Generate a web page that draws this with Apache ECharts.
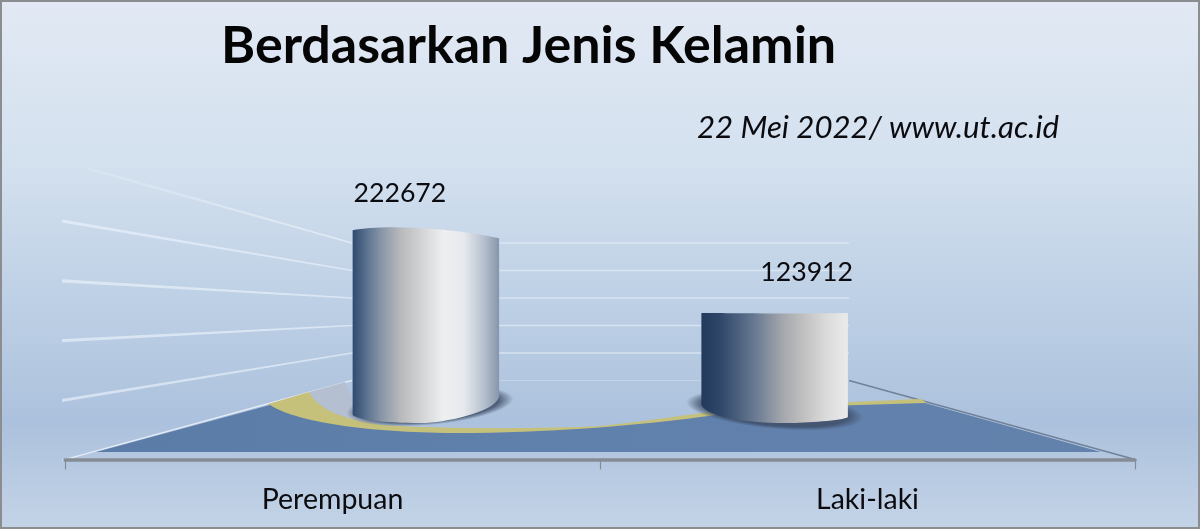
<!DOCTYPE html>
<html><head><meta charset="utf-8">
<style>html,body{margin:0;padding:0;background:#fff}#c{width:1200px;height:529px}</style>
<script src="https://cdn.jsdelivr.net/npm/echarts@6/dist/echarts.min.js"></script>
</head><body><div id="c"></div>
<script>
const categories = ['Perempuan', 'Laki-laki'];
const values = [222672, 123912];
const gridTicks = [0, 50000, 100000, 150000, 200000, 250000];
const titleText = 'Berdasarkan Jenis Kelamin';
const noteText = '22 Mei 2022/ www.ut.ac.id';

const FONT = 'Lato, "Open Sans", sans-serif';
const chart = echarts.init(document.getElementById('c'), null, {renderer: 'canvas'});

// perspective planes: 0 = front of the floor, 1 = through the cylinders, 2 = back wall
const grids = [
  {left: 65, right: 65, top: 162, height: 297.5},
  {left: 251.5, right: 251, top: 213.5, height: 193.5},
  {left: 352, right: 351, top: 243, height: 137.5}
];
const hiddenY = i => ({type: 'value', gridIndex: i, min: 0, max: 250000, interval: 50000, show: false});
const hiddenX = i => ({type: 'category', gridIndex: i, data: categories, show: false});

const cylStops = [
  [[0,'#2f4a70'],[.1,'#5d7491'],[.2,'#8a97a8'],[.33,'#b9babc'],[.48,'#d4d5d6'],[.62,'#eeeff0'],[.76,'#e6e9ed'],[.9,'#b4bfcd'],[1,'#8695ab']],
  [[0,'#233a5c'],[.12,'#2d4568'],[.35,'#64768f'],[.55,'#a3a6ac'],[.68,'#bdbdbd'],[.86,'#dcdcdc'],[1,'#ebebeb']]
];
const cylEdge = [
  {tl:-4.5, tr:3.5, tp:-9.5, bl:8, br:-10, bp:16, mid:.47, sx:4, sy:-1, srx:84, sry:19, rot:.09},
  {tl:2, tr:2, tp:2, bl:-2, br:10, bp:16, mid:.59, sx:0, sy:3, srx:89, sry:19, rot:-.09}
];
const labelOffset = [[-26, -41], [32, -39]];

function drawCylinder(params, api) {
  const i = api.value(0), v = api.value(1);
  const top = api.coord([i, v]), base = api.coord([i, 0]);
  const band = api.size([1, 0])[0], w = band * 0.42;
  const xl = top[0] - w / 2, xr = top[0] + w / 2, e = cylEdge[i];
  const yt = top[1], yb = base[1], xm = xl + e.mid * w;
  const d = [
    'M', xl, yt + e.tl,
    'C', xl + .18 * w, yt + e.tp, xl + .6 * w, yt + e.tp + 1, xr, yt + e.tr,
    'L', xr, yb + e.br,
    'C', xr - .03 * w, yb + e.br + (e.bp - e.br) * .6, xm + .28 * (xr - xm), yb + e.bp, xm, yb + e.bp,
    'C', xm - .6 * (xm - xl), yb + e.bp, xl + .03 * w, yb + e.bl + (e.bp - e.bl) * .55, xl, yb + e.bl,
    'Z'
  ].join(' ');
  const scx = top[0] + e.sx, scy = yb + e.sy;
  return {
    type: 'group',
    children: [
      {type: 'circle', shape: {cx: 0, cy: 0, r: 1}, x: scx, y: scy, scaleX: e.srx, scaleY: e.sry, rotation: e.rot,
       style: {fill: {type:'radial',x:.5,y:.5,r:.5,colorStops:[{offset:0,color:'rgba(62,78,104,0.85)'},{offset:.82,color:'rgba(62,78,104,0.85)'},{offset:1,color:'rgba(62,78,104,0)'}]}}},
      {type: 'path', shape: {pathData: d},
       style: {fill: {type:'linear',x:0,y:0,x2:1,y2:0,colorStops:cylStops[i].map(s=>({offset:s[0],color:s[1]}))}}},
      {type: 'text', style: {text: String(v), x: top[0] + labelOffset[i][0], y: yt + labelOffset[i][1],
        align: 'center', verticalAlign: 'middle', fill: '#0b0b10', font: '26.7px ' + FONT}}
    ]
  };
}

function bandEdges(gridIndex, v) {
  const a = chart.convertToPixel({gridIndex}, [0, v]), b = chart.convertToPixel({gridIndex}, [1, v]);
  const band = b[0] - a[0];
  return {l: a[0] - band / 2, r: b[0] + band / 2, y: a[1]};
}

function drawWall(params, api) {
  const v = api.value(1);
  const f = bandEdges(0, v), k = bandEdges(2, v);
  const isTop = v === gridTicks[gridTicks.length - 1], isZero = v === 0;
  const children = [];
  const halfF = isZero ? .7 : 1.6, halfK = isZero ? .7 : .8;
  const startX = isTop ? f.l + 23 : f.l - 3;
  const startY = f.y + (k.y - f.y) * (startX - f.l) / (k.l - f.l);
  children.push({type: 'polygon', shape: {points: [[startX, startY - halfF], [k.l, k.y - halfK], [k.l, k.y + halfK], [startX, startY + halfF]]},
    style: {fill: isTop ? {type:'linear',x:0,y:0,x2:1,y2:0,colorStops:[{offset:0,color:'rgba(255,255,255,0.12)'},{offset:1,color:'rgba(255,255,255,0.5)'}]}
                        : 'rgba(238,244,251,' + (isZero ? .85 : .62) + ')'}});
  if (!isZero) {
    children.push({type: 'line', shape: {x1: k.l, y1: k.y, x2: k.r, y2: k.y},
      style: {stroke: 'rgba(228,236,246,0.7)', lineWidth: 1.5}});
  } else {
    children.push({type: 'line', shape: {x1: k.l, y1: k.y, x2: k.r, y2: k.y},
      style: {stroke: 'rgba(228,236,246,0.35)', lineWidth: 1.2}});
    children.push({type: 'line', shape: {x1: k.r, y1: k.y, x2: f.r, y2: f.y},
      style: {stroke: '#6f8298', lineWidth: 1.5}});
  }
  return {type: 'group', children};
}

// the polished floor: grey reflection, yellow band, blue surface
function drawFloor() {
  return {type: 'group', children: [
    {type: 'path', shape: {pathData: 'M309,392 L345,382 L358,412 L383,426 L345,419 L318,408 Z'}, style: {fill: '#b4c0d1'}},
    {type: 'path', shape: {pathData: 'M268,404 L309,392 C318,410 345,420 383,425 C440,429 540,429 600,426 C650,421 690,414 719,411 C770,405 850,402 921,399 L927,403 L800,445 L300,445 Z'}, style: {fill: '#c5c17b'}},
    {type: 'path', shape: {pathData: 'M96,452 L270,405 C300,424 380,433 459,433 C540,433 640,426 715,415 C790,406 860,405 925,403 L1101,452 Z'},
     style: {fill: {type:'linear',x:0,y:0,x2:1,y2:0,colorStops:[{offset:0,color:'#5c7ca8'},{offset:.5,color:'#6181ad'},{offset:1,color:'#6281ab'}]}}}
  ]};
}

chart.setOption({
  animation: false,
  backgroundColor: {type:'linear',x:0,y:0,x2:0,y2:1,colorStops:[
    {offset:0,color:'#e2e9f4'},{offset:.3,color:'#d4e1ef'},{offset:.6,color:'#bbcee4'},{offset:.8,color:'#acc1dd'},{offset:1,color:'#c4d4e7'}]},
  title: [
    {text: titleText, left: 216, top: 15, textStyle: {fontFamily: FONT, fontWeight: 'bold', fontSize: 52, color: '#050505'}},
    {text: noteText, left: 692, top: 107, textStyle: {fontFamily: FONT, fontStyle: 'italic', fontWeight: 'normal', fontSize: 31.2, color: '#0b0b10'}}
  ],
  grid: grids.map(g => Object.assign({}, g)),
  xAxis: [
    {type: 'category', gridIndex: 0, data: categories,
     axisLine: {show: true, lineStyle: {color: '#858c93', width: 3.5}},
     axisTick: {show: true, alignWithLabel: false, length: 10, lineStyle: {color: '#858c93', width: 1.2}},
     axisLabel: {show: true, fontFamily: FONT, fontSize: 28.5, color: '#0b0b10', margin: 26}},
    hiddenX(1), hiddenX(2)
  ],
  yAxis: [hiddenY(0), hiddenY(1), hiddenY(2)],
  graphic: [
    {type: 'rect', z: 100, shape: {x: 1, y: 1, width: 1198, height: 527}, style: {fill: 'none', stroke: '#8b8d90', lineWidth: 2}}
  ],
  series: [
    {type: 'custom', name: 'wall', coordinateSystem: 'cartesian2d', xAxisIndex: 2, yAxisIndex: 2, z: 0, silent: true,
     renderItem: drawWall, data: gridTicks.map(t => [0, t]), clip: false},
    {type: 'custom', name: 'floor', coordinateSystem: 'cartesian2d', xAxisIndex: 0, yAxisIndex: 0, z: 1, silent: true,
     renderItem: drawFloor, data: [[0, 0]], clip: false},
    {type: 'custom', name: 'Jenis Kelamin', coordinateSystem: 'cartesian2d', xAxisIndex: 1, yAxisIndex: 1, z: 3,
     renderItem: drawCylinder, data: values.map((v, i) => [i, v]), clip: false}
  ]
});
</script></body></html>
